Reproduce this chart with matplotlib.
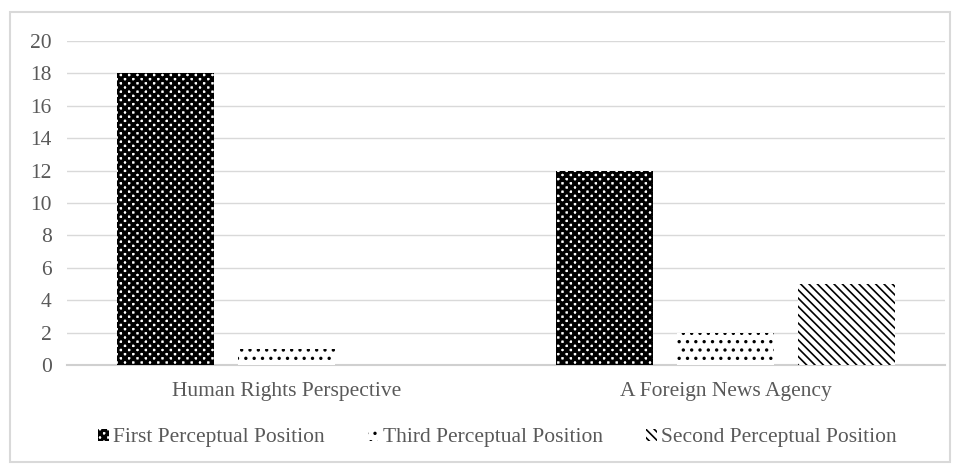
import matplotlib
matplotlib.use("Agg")
import matplotlib.pyplot as plt
import numpy as np
from matplotlib.patches import Rectangle
import matplotlib.patheffects as pe

categories = ["Human Rights Perspective", "A Foreign News Agency"]
series_names = ["First Perceptual Position", "Third Perceptual Position", "Second Perceptual Position"]
first_pos = [18, 12]
third_pos = [1, 2]
second_pos = [0, 5]
y_ticks = [0, 2, 4, 6, 8, 10, 12, 14, 16, 18, 20]

plt.rcParams['font.family'] = ['Liberation Serif', 'DejaVu Serif']
plt.rcParams['hatch.linewidth'] = 1.2

fig = plt.figure(figsize=(9.59, 4.66), dpi=100)
ax = fig.add_axes([67 / 959, 1 - 365 / 466, 878 / 959, 324 / 466])

# outer chart border
fig.patches.append(Rectangle((10 / 959, 4 / 466), 940 / 959, 450 / 466,
                             transform=fig.transFigure, fill=False,
                             edgecolor='#d9d9d9', linewidth=1.5))

x = np.arange(len(categories))
width = 0.221
offset = 0.276
shadow = [pe.SimplePatchShadow(offset=(0, 0), shadow_rgbFace='#bbbbbb', alpha=0.6), pe.Normal()]

values = [first_pos, third_pos, second_pos]
hatches = ['xxxx++++', '..', '\\\\\\\\']
for i, (vals, name, h) in enumerate(zip(values, series_names, hatches)):
    bars = ax.bar(x + (i - 1) * offset, vals, width, label=name, facecolor='white',
                  edgecolor='black', hatch=h, linewidth=0, zorder=3)
    for b in bars:
        if b.get_height() > 0:
            b.set_path_effects(shadow)

ax.set_xlim(-0.5, 1.5)
ax.set_ylim(0, 20)
ax.set_yticks(y_ticks)
ax.set_xticks(x)
ax.set_xticklabels(categories)
ax.yaxis.grid(True, color='#d9d9d9', linewidth=1)
ax.set_axisbelow(True)
for s in ['top', 'right', 'left']:
    ax.spines[s].set_visible(False)
ax.spines['bottom'].set_color('#d0d0d0')
ax.spines['bottom'].set_linewidth(1.5)
ax.tick_params(axis='both', length=0, labelsize=15.5, colors='#595959')
ax.tick_params(axis='y', pad=11)
ax.tick_params(axis='x', pad=12)

ax.legend(loc='center', bbox_to_anchor=(0.49, -0.225), ncol=3, frameon=False,
          fontsize=15.5, labelcolor='#595959', handlelength=0.5, handleheight=0.5,
          handletextpad=0.2, columnspacing=2.0)

fig.savefig("out.png", dpi=100)
